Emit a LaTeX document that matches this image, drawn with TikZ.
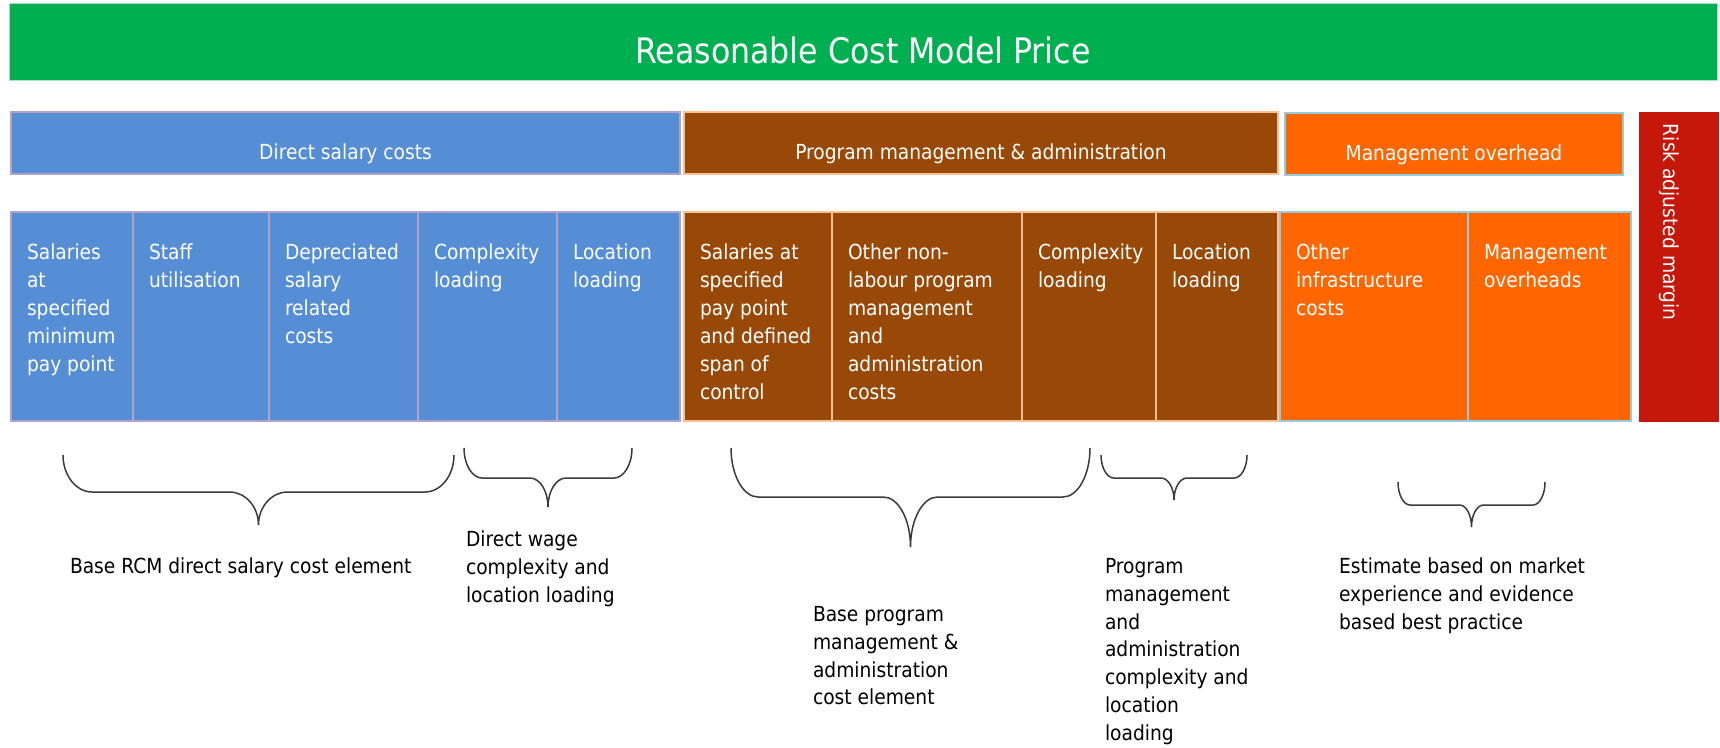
\documentclass[tikz,border=0pt]{standalone}
\usepackage{fontspec}
\setmainfont{DejaVu Sans Condensed}
\usepackage{tikz}
\usetikzlibrary{positioning}

\definecolor{rcmgreen}{HTML}{00B050}
\definecolor{salblue}{HTML}{558ED5}
\definecolor{salline}{HTML}{B3A2C7}
\definecolor{pmabrown}{HTML}{984807}
\definecolor{pmaline}{HTML}{FAC090}
\definecolor{ohorange}{HTML}{FF6600}
\definecolor{ohline}{HTML}{93CDDD}
\definecolor{riskred}{HTML}{C5170A}
\definecolor{bracegray}{HTML}{3A3A3A}

\newcommand{\bracebelow}[6]{%
    \draw[bracestyle] (#1,#3) .. controls (#1,{#3+0.55*(#4-#3)}) and ({#1+0.45*#6},#4) .. ({#1+#6},#4)
        -- ({(#1+#2)/2-#6},#4) .. controls ({(#1+#2)/2-0.45*#6},#4) and ({(#1+#2)/2},{#4+0.45*(#5-#4)}) .. ({(#1+#2)/2},#5)
        .. controls ({(#1+#2)/2},{#4+0.45*(#5-#4)}) and ({(#1+#2)/2+0.45*#6},#4) .. ({(#1+#2)/2+#6},#4)
        -- ({#2-#6},#4) .. controls ({#2-0.45*#6},#4) and (#2,{#3+0.55*(#4-#3)}) .. (#2,#3);
}

\begin{document}
\begin{tikzpicture}[x=0.2mm, y=-0.2mm,
    every node/.style={outer sep=0pt},
    bannerbox/.style={fill=rcmgreen, draw=rcmgreen!35, line width=0.2mm, anchor=north west, minimum width=341.6mm, minimum height=15.4mm},
    titletext/.style={anchor=base, yshift=3.4mm, text=white, font=\fontsize{20}{24}\selectfont},
    headbox/.style={line width=0.5mm, anchor=north west, minimum height=12.4mm},
    headtext/.style={anchor=base, yshift=2.9mm, text=white, font=\fontsize{11.8}{15.9}\selectfont},
    cellbox/.style={line width=0.5mm, anchor=north west, minimum height=41.8mm},
    celltext/.style={anchor=north west, align=left, inner xsep=3.2mm, inner ysep=6.4mm, text=white, font=\fontsize{11.8}{15.9}\selectfont},
    notetext/.style={anchor=north west, align=left, inner sep=0pt, text=black, font=\fontsize{11.8}{15.9}\selectfont},
    bracestyle/.style={draw=bracegray, line width=0.3mm}]
    \useasboundingbox (0,0) rectangle (1720,747);

    \node[bannerbox, label={[titletext]south:Reasonable Cost Model Price}] (rcm) at (9,3) {};

    \node[headbox, fill=salblue, draw=salline, minimum width=133.8mm, label={[headtext]south:Direct salary costs}] (hdsal) at (11,112) {};
    \node[headbox, fill=pmabrown, draw=pmaline, minimum width=118.8mm, label={[headtext]south:Program management \& administration}] (hdpma) at (684,112) {};
    \node[headbox, fill=ohorange, draw=ohline, minimum width=67.6mm, label={[headtext]south:Management overhead}] (hdoh) at (1285,113) {};
    \node[fill=riskred, anchor=north west, minimum width=16mm, minimum height=62mm,
        label={[xshift=-3.2mm, yshift=-1.2mm, rotate=-90, anchor=base west, text=white, font=\fontsize{11.8}{15.9}\selectfont]north:Risk adjusted margin}] (risk) at (1639,112) {};

    \node[cellbox, fill=salblue, draw=salline, minimum width=24.4mm, label={[celltext]north west:Salaries\\at\\specified\\minimum\\pay point}] (sal1) at (11,212) {};
    \node[cellbox, fill=salblue, draw=salline, minimum width=27.2mm, label={[celltext]north west:Staff\\utilisation}] (sal2) at (133,212) {};
    \node[cellbox, fill=salblue, draw=salline, minimum width=29.8mm, label={[celltext]north west:Depreciated\\salary\\related\\costs}] (sal3) at (269,212) {};
    \node[cellbox, fill=salblue, draw=salline, minimum width=27.8mm, label={[celltext]north west:Complexity\\loading}] (sal4) at (418,212) {};
    \node[cellbox, fill=salblue, draw=salline, minimum width=24.6mm, label={[celltext]north west:Location\\loading}] (sal5) at (557,212) {};

    \node[cellbox, fill=pmabrown, draw=pmaline, minimum width=29.6mm, label={[celltext]north west:Salaries at\\specified\\pay point\\and defined\\span of\\control}] (pma1) at (684,212) {};
    \node[cellbox, fill=pmabrown, draw=pmaline, minimum width=38mm, label={[celltext]north west:Other non-\\labour program\\management\\and\\administration\\costs}] (pma2) at (832,212) {};
    \node[cellbox, fill=pmabrown, draw=pmaline, minimum width=26.8mm, label={[celltext]north west:Complexity\\loading}] (pma3) at (1022,212) {};
    \node[cellbox, fill=pmabrown, draw=pmaline, minimum width=24.4mm, label={[celltext]north west:Location\\loading}] (pma4) at (1156,212) {};

    \node[cellbox, fill=ohorange, draw=ohline, minimum width=37.6mm, label={[celltext]north west:Other\\infrastructure\\costs}] (oh1) at (1280,212) {};
    \node[cellbox, fill=ohorange, draw=ohline, minimum width=32.6mm, label={[celltext]north west:Management\\overheads}] (oh2) at (1468,212) {};

    \bracebelow{63}{454}{455}{492}{525}{29}
    \bracebelow{464}{632}{448}{478}{507}{18}
    \bracebelow{731}{1090}{448}{497}{547}{27}
    \bracebelow{1101}{1247}{455}{478}{500}{13}
    \bracebelow{1398}{1545}{482}{505}{527}{12}

    \node[notetext] (nsal) at (70,558) {Base RCM direct salary cost element};
    \node[notetext] (nwage) at (466,531) {Direct wage\\complexity and\\location loading};
    \node[notetext] (npma) at (813,606) {Base program\\management \&\\administration\\cost element};
    \node[notetext] (npmaload) at (1105,558) {Program\\management\\and\\administration\\complexity and\\location\\loading};
    \node[notetext] (noh) at (1339,558) {Estimate based on market\\experience and evidence\\based best practice};
\end{tikzpicture}
\end{document}
